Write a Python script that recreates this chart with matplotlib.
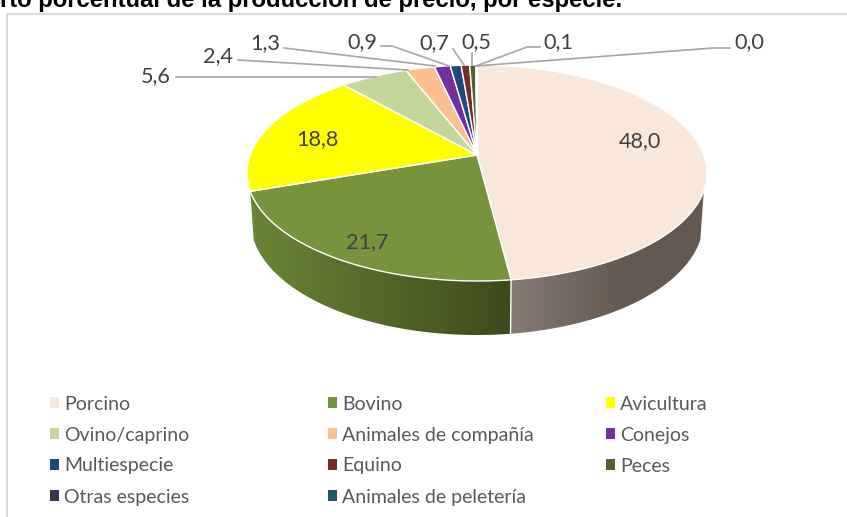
import numpy as np
import matplotlib
matplotlib.use("Agg")
import matplotlib.pyplot as plt
from matplotlib.patches import Patch, Polygon
from matplotlib.colors import to_rgb

categories = ["Porcino", "Bovino", "Avicultura", "Ovino/caprino", "Animales de compañía",
              "Conejos", "Multiespecie", "Equino", "Peces", "Otras especies", "Animales de peletería"]
values = [48.0, 21.7, 18.8, 5.6, 2.4, 1.3, 0.9, 0.7, 0.5, 0.1, 0.0]
colors = ["#F9E7D9", "#77933C", "#FFFF00", "#C3D69B", "#FAC090", "#7030A0",
          "#1F497D", "#772C2A", "#4F6228", "#403152", "#215968"]
TITLE = "rto porcentual de la producción de precio, por especie."

plt.rcParams["font.family"] = ["Lato", "DejaVu Sans"]
TXT = "#404040"
fig = plt.figure(figsize=(8.47, 5.17), dpi=100)
ax = fig.add_axes([0, 0, 1, 1])
ax.set_xlim(0, 847); ax.set_ylim(517, 0); ax.axis("off")

# perspective pie projection
CX, CY, A, B, P = 477, 155, 226.8, 105, 1/6
def project(theta):
    u, v = np.sin(theta), np.cos(theta)
    w = 1 + P*v
    return CX + A*u/w, CY - B*v/w

def project_bottom(theta):
    v = np.cos(theta)
    x, y = project(theta)
    return CX + (x-CX)*0.985, y + 46 - 8*v

cum = np.concatenate([[0], np.cumsum(values)]) / sum(values) * 2*np.pi

# frame
ax.plot([6.5, 6.5, 847], [517, 13.5, 13.5], color="#D9D9D9", lw=1.4, zorder=1)

# side walls with horizontal gradients
def wall(a0, a1, x_stops, col_stops):
    t = np.linspace(a0, a1, 200)
    x, y = project(t)
    xb, yb = project_bottom(t[::-1])
    poly = Polygon(np.c_[np.r_[x, xb], np.r_[y, yb]], closed=True, transform=ax.transData,
                   fc="none", ec="none")
    ax.add_patch(poly)
    xs = np.arange(int(min(x.min(), xb.min()))-1, int(max(x.max(), xb.max()))+2)
    rgb = np.array([np.interp(xs, x_stops, [to_rgb(c)[k] for c in col_stops]) for k in range(3)]).T
    im = ax.imshow(rgb[None, :, :], extent=(xs[0], xs[-1], 345, 150), aspect="auto", zorder=2,
                   interpolation="bilinear")
    im.set_clip_path(poly)

wall(np.radians(109), cum[1], [511, 625], ["#857A74", "#635951"])
wall(cum[1], np.radians(251), [250, 511], ["#6A8636", "#3D4A1C"])
ax.set_xlim(0, 847); ax.set_ylim(517, 0)
x0, y0 = project(cum[1])
xb0, yb0 = project_bottom(cum[1])
ax.plot([x0, xb0], [y0, yb0], color="white", lw=1.0, zorder=3)

# top face
for i, c in enumerate(colors):
    t = np.linspace(cum[i], cum[i+1], max(3, int(values[i]*6)))
    x, y = project(t)
    ax.fill(np.r_[CX, x], np.r_[CY, y], facecolor=c, edgecolor="white", lw=1.0, zorder=4, joinstyle="round")

# labels and leader lines
fmt = [f"{v:.1f}".replace(".", ",") for v in values]
inside = {0: (640, 141), 1: (367, 242), 2: (317, 139)}
outside = {3: ((156, 76), [(176, 77), (376, 77)]),
           4: ((218, 56), [(238, 60), (408, 70)]),
           5: ((265, 43), [(284, 48), (435, 66)]),
           6: ((362, 42), [(381, 46), (392, 46), (449, 66)]),
           7: ((434, 43), [(453, 49), (464, 65)]),
           8: ((476, 42), [(472, 53), (472, 65)]),
           9: ((558, 42), [(540, 47), (527, 47), (476, 66)]),
           10: ((749, 42), [(730, 48), (713, 48), (476, 66)])}
for i, p in inside.items():
    ax.text(*p, fmt[i], ha="center", va="center", fontsize=15.6, color=TXT, zorder=6)
for i, (p, ln) in outside.items():
    ax.text(*p, fmt[i], ha="center", va="center", fontsize=15.6, color=TXT, zorder=6)
    xs, ys = zip(*ln)
    ax.plot(xs, ys, color="#A6A6A6", lw=1.2, zorder=5)

# legend: three columns
def col_legend(idx, x):
    h = [Patch(facecolor=colors[i], edgecolor="none", label=categories[i]) for i in idx]
    lg = ax.legend(handles=h, loc="upper left", bbox_to_anchor=(x/847, 1-395.5/517),
                   bbox_transform=fig.transFigure, frameon=False, fontsize=14,
                   handlelength=0.45, handleheight=0.45, handletextpad=0.29,
                   labelspacing=0.72, borderpad=0, borderaxespad=0, labelcolor="#595959")
    ax.add_artist(lg)
    ax.legend_ = None
col_legend([0, 3, 6, 9], 50)
col_legend([1, 4, 7, 10], 328)
col_legend([2, 5, 8], 606)

fig.text(0, 1-6.5/517, TITLE, fontfamily="Liberation Sans", fontweight="bold", fontsize=17.2,
         color="black", ha="left", va="baseline")
fig.savefig("out.png", dpi=100)
